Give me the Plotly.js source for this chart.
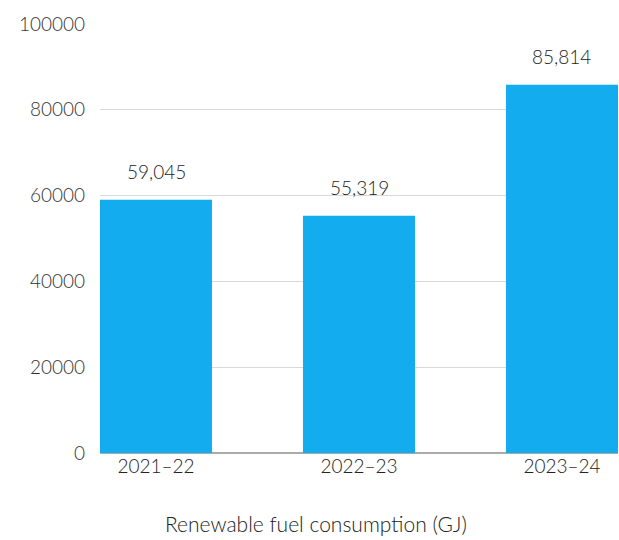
<!DOCTYPE html>
<html>
<head>
<meta charset="utf-8">
<script src="https://cdn.plot.ly/plotly-3.0.1.min.js"></script>
<style>html,body{margin:0;padding:0;background:#fff;}#chart{width:619px;height:540px;}</style>
</head>
<body>
<div id="chart"></div>
<script>
const categories = ["2021-22", "2022-23", "2023-24"];
const tickLabels = ["2021\u201322", "2022\u201323", "2023\u201324"];
const values = [59045, 55319, 85814];
const valueLabels = ["59,045", "55,319", "85,814"];
const axisTitle = "Renewable fuel consumption (GJ)";

const FONT = "Lato, 'Open Sans', sans-serif";
const W = 300;

const trace = {
  type: "bar",
  x: categories,
  y: values,
  width: 0.552,
  marker: { color: "#13acef", line: { width: 0 } },
  hoverinfo: "skip"
};

const annotations = categories.map((c, i) => ({
  x: c, y: values[i], xref: "x", yref: "y",
  text: valueLabels[i], showarrow: false,
  yanchor: "bottom", yshift: 15,
  font: { family: FONT, size: 19, color: "#222222", weight: W }
}));
annotations.push({
  xref: "paper", yref: "paper", x: 0.417, y: 0, yshift: -85,
  xanchor: "center", yanchor: "bottom",
  text: axisTitle, showarrow: false,
  font: { family: FONT, size: 21, color: "#222222", weight: W }
});

const layout = {
  width: 619, height: 540,
  margin: { l: 100, r: 1, t: 24, b: 87, pad: 0 },
  paper_bgcolor: "#ffffff", plot_bgcolor: "#ffffff",
  showlegend: false,
  font: { family: FONT, size: 19, color: "#333333", weight: W },
  xaxis: {
    type: "category",
    categoryarray: categories,
    tickvals: categories,
    ticktext: tickLabels,
    range: [-0.276, 2.276],
    showgrid: false, zeroline: false, showline: false,
    ticks: "", ticklen: 0,
    tickfont: { family: FONT, size: 19, color: "#222222", weight: W }
  },
  yaxis: {
    range: [0, 100000],
    tickvals: [0, 20000, 40000, 60000, 80000, 100000],
    ticktext: ["0", "20000", "40000", "60000", "80000", "100000"],
    showgrid: true, gridcolor: "#d9d9d9", gridwidth: 1,
    zeroline: true, zerolinecolor: "#aaaaaa", zerolinewidth: 1.5,
    showline: false, ticks: "", ticklabelstandoff: 14,
    tickfont: { family: FONT, size: 19, color: "#333333", weight: W }
  },
  annotations: annotations,
  bargap: 0.448
};

Plotly.newPlot("chart", [trace], layout, { displayModeBar: false, staticPlot: true });
</script>
</body>
</html>
